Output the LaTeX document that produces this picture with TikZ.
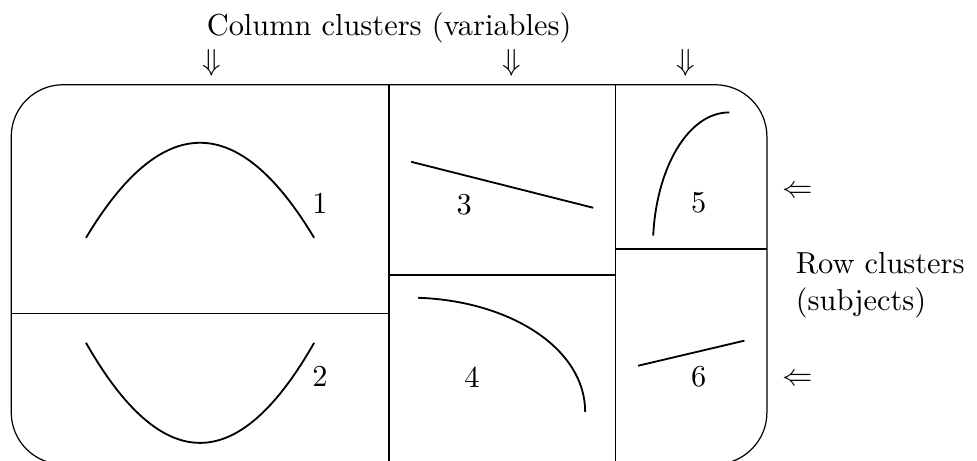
\documentclass[tikz,border=0pt]{standalone}
\usepackage{amsmath}
\usepackage{amssymb}
\usepackage{tikz}

\begin{document}
\begin{tikzpicture}[scale=1.0,
    curve/.style={semithick},
    lab/.style={inner sep=1pt}]
  \useasboundingbox (0,0) rectangle (11.30,5.33);
  % outer frame and blocks
  \draw[rounded corners=0.6cm] (0.13,-0.04) rectangle (8.87,4.35);
  \draw (4.50,-0.04) -- (4.50,4.35);
  \draw (7.12,-0.04) -- (7.12,4.35);
  \draw (0.13,1.70) -- (4.50,1.70);
  \draw (4.50,2.15) -- (7.12,2.15);
  \draw (7.12,2.45) -- (8.87,2.45);
  % block shapes
  \draw[curve] (0.995,2.58) .. controls (1.874,4.045) and (2.754,4.045) .. (3.633,2.58);
  \draw[curve] (0.995,1.365) .. controls (1.874,-0.178) and (2.754,-0.178) .. (3.633,1.365);
  \draw[curve] (4.755,3.459) -- (6.861,2.927);
  \draw[curve] (4.836,1.886) .. controls (5.90,1.85) and (6.768,1.30) .. (6.768,0.567);
  \draw[curve] (7.555,2.604) .. controls (7.59,3.37) and (7.95,4.03) .. (8.435,4.03);
  \draw[curve] (7.38,1.10) -- (8.61,1.39);
  % block numbers
  \node[lab] (one) at (3.70,2.98) {1};
  \node[lab] (two) at (3.70,0.98) {2};
  \node[lab] (three) at (5.37,2.96) {3};
  \node[lab] (four) at (5.46,0.97) {4};
  \node[lab] (five) at (8.08,2.98) {5};
  \node[lab] (six) at (8.08,0.97) {6};
  % column clusters
  \node (coltitle) at (4.50,5.01) {Column clusters (variables)};
  \node (colA) at (2.45,4.60) {$\Downarrow$};
  \node (colB) at (5.92,4.60) {$\Downarrow$};
  \node (colC) at (7.93,4.60) {$\Downarrow$};
  % row clusters
  \node (rowA) at (9.23,3.11) {$\Leftarrow$};
  \node (rowB) at (9.23,0.94) {$\Leftarrow$};
  \node[anchor=west, align=left] (rowtitle) at (9.08,2.03) {Row clusters\\(subjects)};
\end{tikzpicture}
\end{document}
